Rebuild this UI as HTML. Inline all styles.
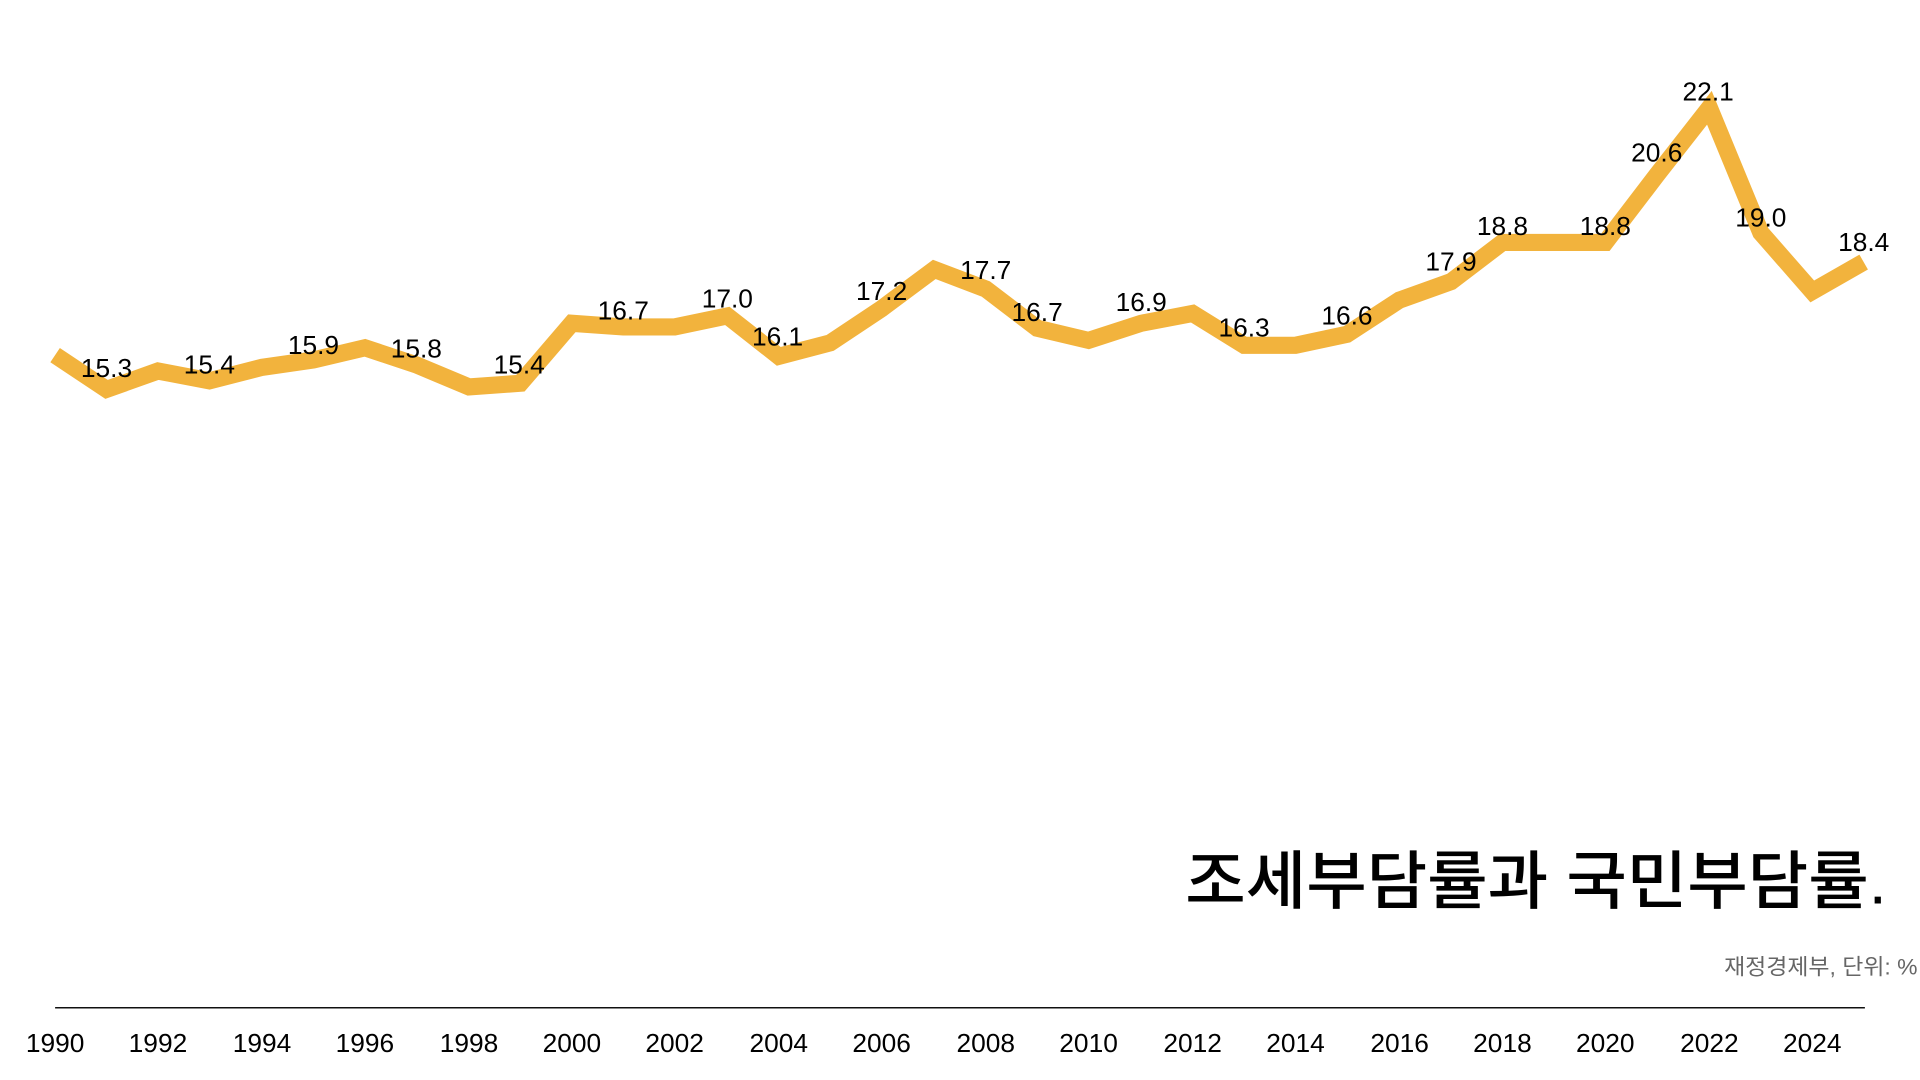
<!DOCTYPE html>
<html><head><meta charset="utf-8"><style>
html,body{margin:0;padding:0;background:#fff;width:1920px;height:1080px;overflow:hidden}
svg{display:block}
text{font-family:"Liberation Sans","Noto Sans CJK KR",sans-serif}
</style></head><body>
<svg width="1920" height="1080" viewBox="0 0 1568 882" xmlns="http://www.w3.org/2000/svg">
<polyline fill="none" stroke="#F2B33D" stroke-width="14" stroke-linejoin="miter" stroke-miterlimit="3"
points="45,290 87,318 129,303 171,311 214,300 256,294 298,284 340,298 383,316 425,313 467,264 509,267 551,267 594,258 636,291 678,280 720,252 763,220 805,236 847,268 889,278 932,264 974,256 1016,282 1058,282 1100,273 1143,245 1185,230 1227,198 1269,198 1311,198 1353,143 1396,88 1438,190 1480,238 1522,214"/>
<g font-size="21.5" fill="#000" text-anchor="middle">
<text x="87" y="308">15.3</text><text x="171" y="305">15.4</text><text x="256" y="289">15.9</text>
<text x="340" y="292">15.8</text><text x="424" y="305">15.4</text><text x="509" y="261">16.7</text>
<text x="594" y="251">17.0</text><text x="635" y="282">16.1</text><text x="720" y="245">17.2</text>
<text x="805" y="228">17.7</text><text x="847" y="262">16.7</text><text x="932" y="254">16.9</text>
<text x="1016" y="275">16.3</text><text x="1100" y="265">16.6</text><text x="1185" y="221">17.9</text>
<text x="1227" y="192">18.8</text><text x="1311" y="192">18.8</text><text x="1353" y="132">20.6</text>
<text x="1395" y="82">22.1</text><text x="1438" y="185">19.0</text><text x="1522" y="205">18.4</text>
</g>
<line x1="45" y1="823" x2="1523" y2="823" stroke="#111" stroke-width="1.2"/>
<g font-size="21.5" fill="#000" text-anchor="middle">
<text x="45" y="859">1990</text><text x="129" y="859">1992</text><text x="214" y="859">1994</text>
<text x="298" y="859">1996</text><text x="383" y="859">1998</text><text x="467" y="859">2000</text>
<text x="551" y="859">2002</text><text x="636" y="859">2004</text><text x="720" y="859">2006</text>
<text x="805" y="859">2008</text><text x="889" y="859">2010</text><text x="974" y="859">2012</text>
<text x="1058" y="859">2014</text><text x="1143" y="859">2016</text><text x="1227" y="859">2018</text>
<text x="1311" y="859">2020</text><text x="1396" y="859">2022</text><text x="1480" y="859">2024</text>
</g>
<text x="968" y="738" font-size="52" font-weight="500" fill="#000" textLength="573" lengthAdjust="spacingAndGlyphs">조세부담률과 국민부담률.</text>
<text x="1408" y="796" font-size="18" fill="#666" textLength="158" lengthAdjust="spacingAndGlyphs">재정경제부, 단위: %</text>
</svg>
</body></html>
